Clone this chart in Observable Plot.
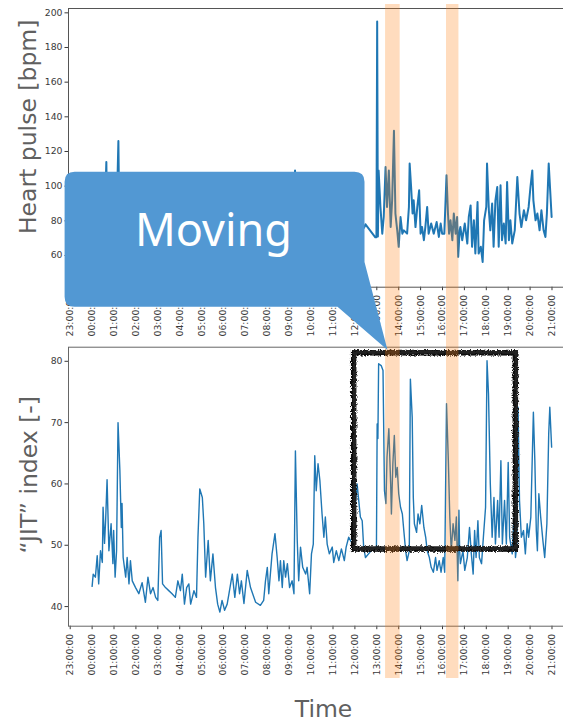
<!DOCTYPE html>
<html><head><meta charset="utf-8">
<script src="https://cdn.jsdelivr.net/npm/d3@7"></script>
<script src="https://cdn.jsdelivr.net/npm/@observablehq/plot@0.6"></script>
<style>
html,body{margin:0;padding:0;background:#fff;}
#wrap{position:relative;width:563px;height:722px;overflow:hidden;background:#fff;}
#wrap svg{position:absolute;left:0;top:0;}
</style></head><body><div id="wrap"></div>
<script>
// ---- data (minutes after 00:00, value) ----
const heartSeries = [[0,72],[8,68],[15,75],[22,80],[30,70],[36,92],[39,114],[41,78],[48,72],[55,85],[62,76],[68,90],[72,126],[74,88],[80,74],[90,70],[100,66],[110,72],[120,64],[130,68],[140,62],[150,66],[160,60],[170,64],[180,70],[190,62],[200,58],[210,62],[220,66],[230,60],[240,64],[250,58],[260,62],[270,56],[280,60],[290,74],[300,82],[310,70],[320,64],[330,60],[340,58],[350,62],[360,56],[370,60],[380,58],[390,64],[400,60],[410,58],[420,62],[430,66],[440,60],[450,64],[460,68],[470,62],[480,66],[490,72],[500,68],[510,74],[520,70],[530,76],[540,82],[550,90],[556,109],[558,84],[565,76],[575,88],[585,80],[595,74],[605,86],[615,92],[625,80],[635,74],[645,70],[655,78],[665,84],[675,76],[685,72],[695,80],[705,86],[715,78],[725,74],[735,82],[745,76],[749,78],[776,70.5],[779,70.5],[781,195],[783,71],[785,109],[790,88],[795,72.6],[799,82.2],[804,111],[808,88],[813,109],[818,76.4],[822,91.8],[827,132],[831,84.2],[836,74.5],[840,65],[845,82.2],[850,72.6],[854,74.5],[863,72.6],[868,88],[870,113],[874,99.5],[878,84.2],[881,91.8],[886,76.4],[891,88],[896,97.6],[900,72.6],[904,76.4],[909,68.8],[913,76.4],[918,88],[922,72.6],[929,78.4],[936,72.6],[944,79.3],[950,70.7],[955,78.4],[959,72.6],[965,72.6],[971,106.3],[975,84.2],[978,72.6],[982,80.3],[987,68.8],[991,84.2],[996,72.6],[1000,82.2],[1003,59.2],[1007,74.5],[1009,76.4],[1014,68.8],[1021,78.4],[1028,66.9],[1032,82.2],[1037,88.9],[1041,65],[1046,80.3],[1050,61.1],[1056,90.9],[1059,61.1],[1065,65],[1070,56.3],[1074,80.3],[1080,88],[1082,113],[1087,86.1],[1091,74.5],[1096,90],[1100,65],[1105,91.8],[1110,99.5],[1114,65],[1119,100.5],[1123,68.8],[1128,78.4],[1133,66.9],[1137,102.4],[1142,68.8],[1146,80.3],[1151,66.9],[1158,74.5],[1165,105.3],[1171,84.2],[1176,76.4],[1183,86.1],[1189,80.3],[1196,88],[1201,99.5],[1206,109.1],[1209,91.8],[1215,80.3],[1220,84.2],[1226,74.5],[1231,86.1],[1237,74.5],[1242,70.7],[1246,84.2],[1251,113],[1255,97.6],[1259,82.2]];

const jitSeries = [[0,43.3],[3,45.3],[9,44.8],[14,48.3],[18,43.7],[23,49.1],[28,47.2],[30,56.2],[34,50.3],[37,54],[41,60.7],[46,49.1],[52,53.5],[57,47],[59,52.4],[63,44.8],[67,49.1],[71,70],[76,62.3],[80,52.9],[82,56.8],[85,48],[92,44.8],[96,48],[101,43.7],[105,47.5],[110,44.2],[119,43.1],[128,42.1],[137,43.9],[146,40.7],[153,44.8],[160,42.1],[167,43.1],[174,41.5],[180,41],[185,51.3],[189,52.4],[193,43.7],[201,43.1],[210,42.6],[219,42.1],[228,41.5],[235,44.2],[242,42.6],[247,45.3],[253,40.4],[259,43.1],[265,43.7],[270,40.4],[279,42.6],[286,41.5],[290,51.3],[295,59.2],[302,57.8],[306,53.5],[311,44.8],[318,50.8],[324,44.2],[331,48.6],[338,43.1],[344,40.4],[350,39.1],[356,41],[363,39.4],[370,40.4],[375,42.1],[384,45.3],[391,41.5],[398,45.3],[404,42.1],[409,44.2],[416,40.5],[425,45.9],[434,43.1],[448,40.7],[461,40.2],[470,41],[475,44.2],[480,46.4],[484,42.1],[493,48.6],[501,51.9],[507,48],[512,44.2],[516,47.5],[521,43.1],[525,47.5],[530,44.8],[535,47],[541,43.1],[548,44.2],[553,42.1],[557,65.4],[562,50.8],[566,44.2],[571,49.7],[577,46.4],[585,45.3],[589,46.4],[596,42.1],[601,48.6],[606,50.2],[610,64.6],[614,58.9],[619,63.3],[624,60.6],[630,55.1],[635,51.3],[639,54.6],[644,50.2],[650,48.6],[658,49.7],[662,47.2],[669,49.1],[676,47.5],[683,49.4],[691,47.5],[696,49.7],[703,51.3],[713,50.2],[726,60],[735,54.6],[740,54],[744,49.7],[749,48],[763,49],[779,49.7],[781,69.8],[783,67.4],[785,79.6],[792,79.3],[797,78.5],[801,58.9],[805,56.8],[808,64.4],[813,69],[818,60],[820,55.1],[824,63.3],[828,67.9],[832,61.1],[836,62.7],[840,58.4],[845,56.2],[850,55.1],[854,52.4],[859,49.1],[863,47.5],[869,49.1],[872,77.1],[877,70.9],[880,57.8],[883,53.5],[889,52.1],[893,55.1],[898,53.5],[903,56.5],[909,52.9],[914,51.3],[918,49.1],[924,48],[929,46.4],[935,45.6],[941,48],[945,45.9],[951,47.5],[956,45.6],[962,48],[966,45.6],[971,73.1],[976,63.8],[980,54.6],[984,49.1],[989,53.5],[994,50.8],[998,54.6],[1002,44.2],[1005,55.7],[1007,49.1],[1009,47],[1016,49.1],[1021,45.9],[1028,48],[1034,52.9],[1039,48.6],[1044,45.3],[1048,52.4],[1052,48],[1057,54],[1061,48],[1067,47],[1072,51.3],[1078,56.2],[1082,80.1],[1086,74.7],[1091,60],[1096,51.3],[1101,57.8],[1105,50.2],[1111,57.3],[1115,51.3],[1120,63.8],[1124,50.2],[1130,57.3],[1135,50.2],[1140,63.5],[1144,51.3],[1151,48.6],[1156,54.6],[1160,48],[1164,50.2],[1167,72.5],[1171,57.3],[1176,51.3],[1182,52.4],[1187,48.6],[1192,53.5],[1196,51.3],[1202,54.6],[1209,71.7],[1213,63.8],[1217,52.4],[1220,49.1],[1224,58.4],[1229,54.6],[1235,50.8],[1240,48],[1246,53.5],[1251,68.2],[1254,72.5],[1259,66]];

const tickHours = [-1,0,1,2,3,4,5,6,7,8,9,10,11,12,13,14,15,16,17,18,19,20,21];
const heartTicks = [60,80,100,120,140,160,180,200];
const jitTicks = [40,50,60,70,80];
const bandStarts = ["13:24","16:11"];
const bandEnds = ["14:04","16:45"];
const boxTimes = ["11:58","19:21"];
const boxValues = [49.3, 81.3];
const heartLabel = "Heart pulse [bpm]";
const jitLabel = "\u201cJIT\u201d index [-]";
const timeLabel = "Time";
const calloutText = "Moving";

// ---- helpers ----
const base = Date.UTC(2000,0,2);
const t = m => new Date(base + m*60000);
const hm = s => { const [h,m] = s.split(":").map(Number); return t(h*60+m); };
const fmt = d3.utcFormat("%H:%M:%S");
const xDomain = [t(-64.7), t(1297)];
const xTicks = tickHours.map(h => t(h*60));
const heart = heartSeries.map(([m,v]) => ({t:t(m), v}));
const jit = jitSeries.map(([m,v]) => ({t:t(m), v}));
const bands = bandStarts.map((s,i) => ({s:hm(s), e:hm(bandEnds[i])}));
const box = [{x1:hm(boxTimes[0]), x2:hm(boxTimes[1]), y1:boxValues[0], y2:boxValues[1]}];

const W = 566, H = 722;
const style = {background:"transparent", maxWidth:"none", fontFamily:"DejaVu Sans, sans-serif", fontSize:"9.3px", color:"#3a3a3a"};
const xOpts = {type:"utc", domain:xDomain, ticks:xTicks, tickFormat:fmt, tickRotate:-90, tickSize:3.5, tickPadding:4, label:null};
const labelFill = "#606060";
const wrap = document.getElementById("wrap");

// bottom panel
const bottom = Plot.plot({
  width:W, height:H, marginLeft:68, marginRight:1, marginTop:346.7, marginBottom:H-625.7,
  style, x:xOpts,
  y:{domain:[36.8,82.3], ticks:jitTicks, tickSize:3.5, tickPadding:2.5, label:null},
  marks:[
    Plot.frame({stroke:"#666"}),
    Plot.line(jit, {x:"t", y:"v", stroke:"#1f77b4", strokeWidth:1.4}),
    Plot.rect(box, {x1:"x1", x2:"x2", y1:"y1", y2:"y2", fill:"none", stroke:"#111", strokeWidth:5.5}),
    Plot.rect(box, {x1:"x1", x2:"x2", y1:"y1", y2:"y2", fill:"none", stroke:"#222", strokeWidth:3, dx:0.8, dy:-0.6}),
    Plot.text([jitLabel], {text:d=>d, frameAnchor:"left", dx:-32, dy:-12, rotate:-90, lineAnchor:"bottom", textAnchor:"middle", fontSize:23.5, fill:labelFill}),
    Plot.text([timeLabel], {text:d=>d, frameAnchor:"bottom", dx:6.5, dy:90.3, lineAnchor:"bottom", textAnchor:"middle", fontSize:23.5, fill:labelFill})
  ]
});
// sketchy (charcoal-like) filter on the highlight box
{
  const s = d3.select(bottom);
  const defs = s.append("defs");
  const f = defs.append("filter").attr("id","rough").attr("x","-5%").attr("y","-5%").attr("width","110%").attr("height","110%");
  f.append("feTurbulence").attr("type","fractalNoise").attr("baseFrequency","1.3").attr("numOctaves",2).attr("seed",3).attr("result","noise");
  f.append("feDisplacementMap").attr("in","SourceGraphic").attr("in2","noise").attr("scale",5).attr("xChannelSelector","R").attr("yChannelSelector","G");
  const f2 = defs.append("filter").attr("id","rough2").attr("x","-5%").attr("y","-5%").attr("width","110%").attr("height","110%");
  f2.append("feTurbulence").attr("type","fractalNoise").attr("baseFrequency","0.35").attr("numOctaves",1).attr("seed",8).attr("result","noise");
  f2.append("feDisplacementMap").attr("in","SourceGraphic").attr("in2","noise").attr("scale",4).attr("xChannelSelector","R").attr("yChannelSelector","G");
  const rects = s.selectAll('g[aria-label="rect"]').nodes();
  if (rects[0]) d3.select(rects[0]).attr("filter","url(#rough)");
  if (rects[1]) d3.select(rects[1]).attr("filter","url(#rough2)");
}
wrap.appendChild(bottom);

// top panel
const topPlot = Plot.plot({
  width:W, height:H, marginLeft:68, marginRight:1, marginTop:8, marginBottom:H-286.7,
  style, x:xOpts,
  y:{domain:[41.7,202.5], ticks:heartTicks, tickSize:3.5, tickPadding:2.5, label:null},
  marks:[
    Plot.frame({stroke:"#555"}),
    Plot.line(heart, {x:"t", y:"v", stroke:"#1f77b4", strokeWidth:2}),
    Plot.text([heartLabel], {text:d=>d, frameAnchor:"left", dx:-33, dy:-21, rotate:-90, lineAnchor:"bottom", textAnchor:"middle", fontSize:23.5, fill:labelFill})
  ]
});
wrap.appendChild(topPlot);

// orange "moving" bands spanning both panels
const bandPlot = Plot.plot({
  width:W, height:H, marginLeft:68, marginRight:1, marginTop:4, marginBottom:44,
  style, x:{type:"utc", domain:xDomain, axis:null},
  marks:[Plot.rect(bands, {x1:"s", x2:"e", fill:"#ff7f0e", fillOpacity:0.27})]
});
wrap.appendChild(bandPlot);

// callout annotation
{
  const c = d3.create("svg").attr("width",563).attr("height",722);
  const x0=64.6, x1=364.5, y0=171.7, y1=306.7, r=10;
  const tailY=262, tipX=387.5, tipY=350, tailX=337.5;
  c.append("path").attr("fill","#5298d3")
    .attr("d",`M${x0+r},${y0} H${x1-r} Q${x1},${y0} ${x1},${y0+r} V${tailY} L${tipX},${tipY} L${tailX},${y1} H${x0+r} Q${x0},${y1} ${x0},${y1-r} V${y0+r} Q${x0},${y0} ${x0+r},${y0} Z`);
  c.append("text").attr("x",213.5).attr("y",246).attr("text-anchor","middle")
    .attr("fill","#fff").attr("font-family","Noto Sans, Open Sans, sans-serif").attr("font-size",45).text(calloutText);
  wrap.appendChild(c.node());
}
</script></body></html>
